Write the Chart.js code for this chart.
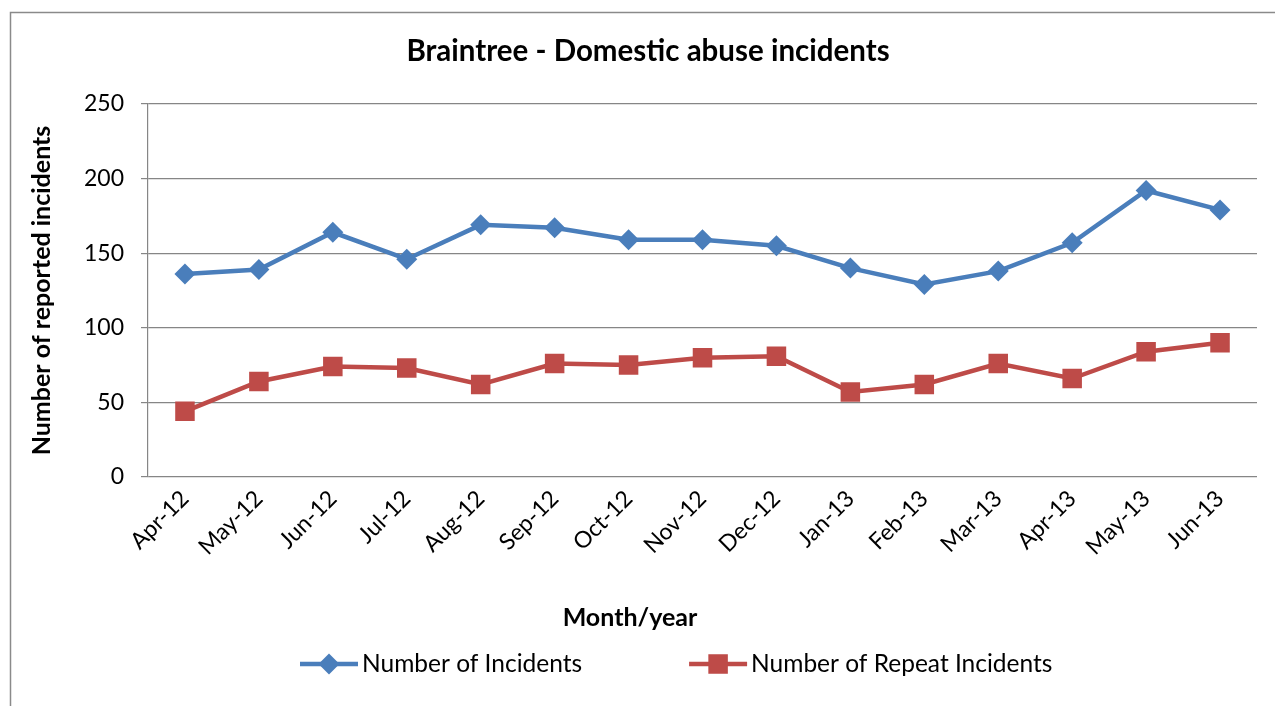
<!DOCTYPE html>
<html><head><meta charset="utf-8">
<script src="https://cdn.jsdelivr.net/npm/chart.js@4/dist/chart.umd.min.js"></script>
<style>html,body{margin:0;padding:0;background:#fff;overflow:hidden}#wrap{width:1275px;height:706px;position:relative}canvas{display:block}</style>
</head><body><div id="wrap"><canvas id="c" width="1275" height="706"></canvas></div>
<script>
const months = ['Apr-12','May-12','Jun-12','Jul-12','Aug-12','Sep-12','Oct-12','Nov-12','Dec-12','Jan-13','Feb-13','Mar-13','Apr-13','May-13','Jun-13'];
const incidents = [136,139,164,146,169,167,159,159,155,140,129,138,157,192,179];
const repeatIncidents = [44,64,74,73,62,76,75,80,81,57,62,76,66,84,90];
const seriesNames = ['Number of Incidents','Number of Repeat Incidents'];
const yMin = 0, yMax = 250, yStep = 50;
const chartTitle = 'Braintree - Domestic abuse incidents';
const xTitle = 'Month/year';
const yTitle = 'Number of reported incidents';

const FONT = 'Lato';
const BLUE = '#4A7EBB', RED = '#BE4B48';
const GRID = '#868686';

function markerPath(ctx, style, r, x, y) {
  ctx.beginPath();
  if (style === 'rectRot') {
    ctx.moveTo(x - r, y); ctx.lineTo(x, y - r); ctx.lineTo(x + r, y); ctx.lineTo(x, y + r); ctx.closePath();
  } else {
    const s = r * Math.SQRT1_2;
    ctx.rect(x - s, y - s, 2 * s, 2 * s);
  }
}

const framePlugin = {
  id: 'frame',
  beforeDraw(chart) {
    const ctx = chart.ctx;
    ctx.save();
    ctx.strokeStyle = '#8a8a8a'; ctx.lineWidth = 1.5;
    ctx.beginPath(); ctx.moveTo(10.5, 706); ctx.lineTo(10.5, 12.5); ctx.lineTo(1275, 12.5); ctx.stroke();
    ctx.restore();
  }
};

const extrasPlugin = {
  id: 'extras',
  afterDraw(chart) {
    const ctx = chart.ctx;
    ctx.save();
    // x axis title
    ctx.fillStyle = '#000';
    ctx.font = 'bold 25px ' + FONT;
    ctx.textAlign = 'center'; ctx.textBaseline = 'middle';
    ctx.fillText(xTitle, 630, 618);
    // legend
    const y = 664;
    let x0 = 300;
    ctx.font = '24.5px ' + FONT;
    ctx.textAlign = 'left';
    chart.data.datasets.forEach((ds) => {
      ctx.strokeStyle = ds.borderColor; ctx.lineWidth = ds.borderWidth;
      ctx.beginPath(); ctx.moveTo(x0, y); ctx.lineTo(x0 + 58, y); ctx.stroke();
      ctx.fillStyle = ds.pointBackgroundColor;
      markerPath(ctx, ds.pointStyle, ds.pointRadius, x0 + 29, y);
      ctx.fill();
      ctx.fillStyle = '#000';
      ctx.fillText(ds.label, x0 + 62, y);
      x0 += 62 + ctx.measureText(ds.label).width + 107;
    });
    ctx.restore();
  }
};

new Chart(document.getElementById('c'), {
  type: 'line',
  data: {
    labels: months,
    datasets: [
      { label: seriesNames[0], data: incidents, borderColor: BLUE, backgroundColor: BLUE,
        pointBackgroundColor: BLUE, pointBorderColor: BLUE, pointBorderWidth: 0,
        pointStyle: 'rectRot', pointRadius: 10.5, pointHoverRadius: 10.5, borderWidth: 4.5, tension: 0 },
      { label: seriesNames[1], data: repeatIncidents, borderColor: RED, backgroundColor: RED,
        pointBackgroundColor: RED, pointBorderColor: RED, pointBorderWidth: 0,
        pointStyle: 'rect', pointRadius: 13.8, pointHoverRadius: 13.8, borderWidth: 4.5, tension: 0 }
    ]
  },
  options: {
    responsive: false,
    devicePixelRatio: 1,
    animation: false,
    events: [],
    layout: { padding: { left: 39, right: 18, top: 12, bottom: 149 } },
    plugins: {
      legend: { display: false },
      tooltip: { enabled: false },
      title: { display: true, text: chartTitle, color: '#000',
        font: { family: FONT, size: 29.5, weight: 'bold', lineHeight: 1.2 },
        padding: { top: 22, bottom: 34.6 } }
    },
    scales: {
      x: {
        offset: true,
        grid: { display: false, drawTicks: false },
        border: { display: false },
        ticks: { color: '#000', font: { family: FONT, size: 23 }, minRotation: 45, maxRotation: 45, padding: 8, autoSkip: false },
        afterFit(s) { s.height = 80; }
      },
      y: {
        min: yMin, max: yMax,
        grid: { color: GRID, lineWidth: 1.2, tickLength: 7, tickColor: GRID },
        border: { display: true, color: GRID, width: 1.2 },
        ticks: { stepSize: yStep, color: '#000', font: { family: FONT, size: 23 }, padding: 17 },
        title: { display: true, text: yTitle, color: '#000', font: { family: FONT, size: 25, weight: 'bold', lineHeight: 1.2 }, padding: { top: -12 } },
        afterFit(s) { s.width = 109; }
      }
    }
  },
  plugins: [framePlugin, extrasPlugin]
});
</script>
</body></html>
